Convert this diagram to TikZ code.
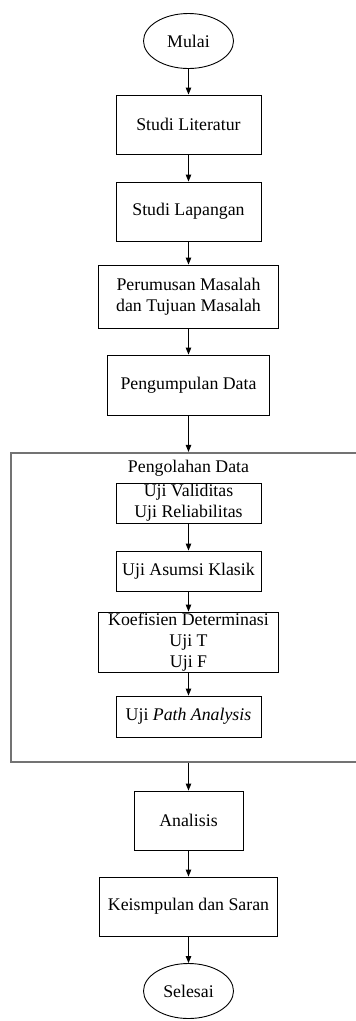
\documentclass[tikz,border=0pt]{standalone}
\usepackage{fontspec}
\setmainfont{Liberation Serif}
\usetikzlibrary{arrows.meta, positioning, shapes.geometric}

\begin{document}
\begin{tikzpicture}[
    ->,
    >={Triangle[length=7pt,width=5.5pt]},
    x=1pt, y=-1pt,
    on grid,
    line width=0.9pt,
    font=\fontsize{17.8}{21}\selectfont,
    proses/.style={draw, rectangle, align=center, inner sep=0pt,
                   minimum width=145pt, minimum height=59pt},
    terminal/.style={draw, ellipse, inner sep=0pt,
                     minimum width=90pt, minimum height=55pt},
]
    \useasboundingbox (0,0) rectangle (356,1021);

    % wadah pengolahan data
    \node[draw=black!55, line width=1.6pt, minimum width=349pt, minimum height=309pt,
          inner sep=0pt] (olah) at (185.5,607.2) {};

    \node[terminal]                                        (mulai)    at (188.5,41) {Mulai};
    \node[proses, below=83.5pt of mulai]                     (lit)      {Studi Literatur};
    \node[proses, below=87pt of lit]                         (lap)      {Studi Lapangan};
    \node[proses, below=85pt of lap, minimum width=180pt,
          minimum height=63pt]                               (rumus)    {Perumusan Masalah\\dan Tujuan Masalah};
    \node[proses, below=88.5pt of rumus, minimum width=162pt,
          minimum height=60pt]                               (kumpul)   {Pengumpulan Data};

    \node[proses, below=118pt of kumpul, minimum height=40pt] (valid)    {Uji Validitas\\Uji Reliabilitas};
    \node[above=35pt of valid, inner sep=0pt]                (judul)    {Pengolahan Data};
    \node[proses, below=68pt of valid, minimum height=40pt]  (asumsi)   {Uji Asumsi Klasik};
    \node[proses, below=71pt of asumsi, minimum width=180pt,
          minimum height=60pt]                               (koef)     {Koefisien Determinasi\\Uji T\\Uji F};
    \node[proses, below=74.5pt of koef, minimum height=41pt] (path)     {Uji \textit{Path Analysis}};

    \node[proses, below=104pt of path, minimum width=109pt]  (analisis) {Analisis};
    \node[proses, below=86pt of analisis, minimum width=178pt] (simpul) {Keismpulan dan Saran};
    \node[terminal, below=84.5pt of simpul]                  (selesai)  {Selesai};

    \path
        (mulai)    edge (lit)
        (lit)      edge (lap)
        (lap)      edge (rumus)
        (rumus)    edge (kumpul)
        (kumpul)   edge (kumpul |- olah.north)
        (valid)    edge (asumsi)
        (asumsi)   edge (koef)
        (koef)     edge (path)
        (olah.south -| analisis) edge (analisis)
        (analisis) edge (simpul)
        (simpul)   edge (selesai)
    ;
\end{tikzpicture}
\end{document}
